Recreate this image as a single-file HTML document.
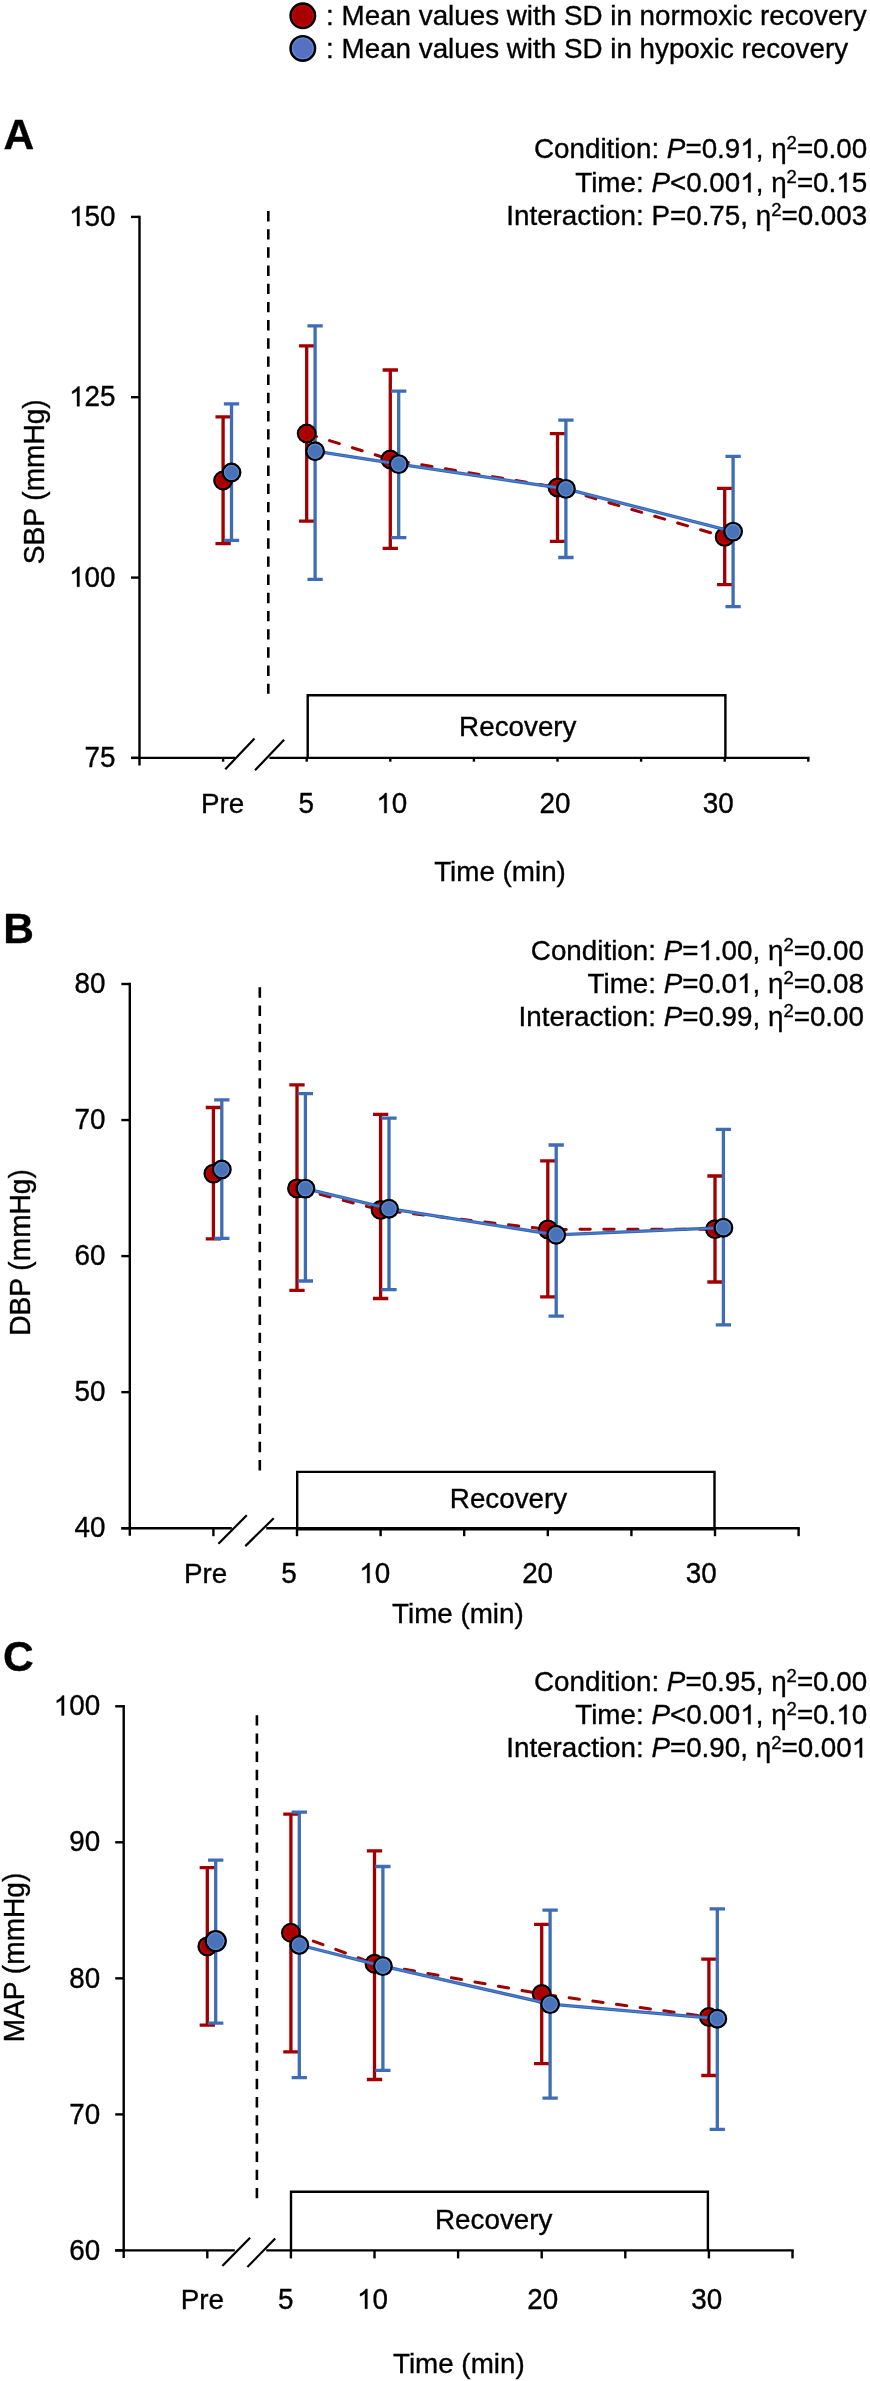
<!DOCTYPE html>
<html><head><meta charset="utf-8"><style>
html,body{margin:0;padding:0;background:#fff;}
body{width:870px;height:2381px;overflow:hidden;}
svg{display:block;font-family:"Liberation Sans", sans-serif;will-change:transform;} text,.g1{stroke:#000;stroke-width:0.35px;} .g1{stroke-width:25px;}
</style></head><body>
<svg width="870" height="2381" viewBox="0 0 870 2381" fill="#000">
<line x1="139.5" y1="215.7" x2="139.5" y2="765.4" stroke="#000" stroke-width="2.4" />
<line x1="131" y1="216.9" x2="139.5" y2="216.9" stroke="#000" stroke-width="2.4" />
<g transform="translate(115.5 226.05) scale(1 1.04)"><text id="t0" text-anchor="end" font-size="27.8" font-weight="normal" > 50</text>
<path class="g1" transform="translate(-46.39 0) scale(0.01357 -0.01357)" d="M763 0L583 0L583 1102Q518 1043 412 983Q306 924 223 894L223 1061Q372 1128 484 1224Q596 1321 643 1409L763 1409Z"/>
</g>
<line x1="131" y1="397.2" x2="139.5" y2="397.2" stroke="#000" stroke-width="2.4" />
<g transform="translate(115.5 406.35) scale(1 1.04)"><text id="t1" text-anchor="end" font-size="27.8" font-weight="normal" > 25</text>
<path class="g1" transform="translate(-46.39 0) scale(0.01357 -0.01357)" d="M763 0L583 0L583 1102Q518 1043 412 983Q306 924 223 894L223 1061Q372 1128 484 1224Q596 1321 643 1409L763 1409Z"/>
</g>
<line x1="131" y1="577.6" x2="139.5" y2="577.6" stroke="#000" stroke-width="2.4" />
<g transform="translate(115.5 586.75) scale(1 1.04)"><text id="t2" text-anchor="end" font-size="27.8" font-weight="normal" > 00</text>
<path class="g1" transform="translate(-46.39 0) scale(0.01357 -0.01357)" d="M763 0L583 0L583 1102Q518 1043 412 983Q306 924 223 894L223 1061Q372 1128 484 1224Q596 1321 643 1409L763 1409Z"/>
</g>
<line x1="131" y1="757.9" x2="139.5" y2="757.9" stroke="#000" stroke-width="2.4" />
<g transform="translate(115.5 767.05) scale(1 1.04)"><text id="t3" text-anchor="end" font-size="27.8" font-weight="normal" >75</text>
</g>
<line x1="131" y1="757.9" x2="235" y2="757.9" stroke="#000" stroke-width="2.4" />
<line x1="269.4" y1="757.9" x2="809.5" y2="757.9" stroke="#000" stroke-width="2.4" />
<line x1="223.1" y1="757.9" x2="223.1" y2="761.7" stroke="#000" stroke-width="2.4" />
<line x1="306.7" y1="757.9" x2="306.7" y2="761.7" stroke="#000" stroke-width="2.4" />
<line x1="390.3" y1="757.9" x2="390.3" y2="761.7" stroke="#000" stroke-width="2.4" />
<line x1="473.9" y1="757.9" x2="473.9" y2="761.7" stroke="#000" stroke-width="2.4" />
<line x1="557.5" y1="757.9" x2="557.5" y2="761.7" stroke="#000" stroke-width="2.4" />
<line x1="641.1" y1="757.9" x2="641.1" y2="761.7" stroke="#000" stroke-width="2.4" />
<line x1="724.7" y1="757.9" x2="724.7" y2="761.7" stroke="#000" stroke-width="2.4" />
<line x1="808.3" y1="757.9" x2="808.3" y2="761.7" stroke="#000" stroke-width="2.4" />
<line x1="225.3" y1="769.2" x2="254.5" y2="738.6" stroke="#000" stroke-width="2.2" />
<line x1="255" y1="770.3" x2="284.1" y2="739.8" stroke="#000" stroke-width="2.2" />
<line x1="268.3" y1="211" x2="268.3" y2="693.7" stroke="#000" stroke-width="2.6" stroke-dasharray="10.4 7.78"/>
<path d="M307.7 757.9V695.3H725.4V757.9" stroke="#000" stroke-width="2.4" fill="none"/>
<g transform="translate(517.8 736.1) scale(1 1.02)"><text id="t4" text-anchor="middle" font-size="27.8" font-weight="normal" >Recovery</text>
</g>
<g transform="translate(222.5 813) scale(1 1.02)"><text id="t5" text-anchor="middle" font-size="27.8" font-weight="normal" >Pre</text>
</g>
<g transform="translate(306.2 813) scale(1 1.04)"><text id="t6" text-anchor="middle" font-size="27.8" font-weight="normal" >5</text>
</g>
<g transform="translate(391.8 813) scale(1 1.04)"><text id="t7" text-anchor="middle" font-size="27.8" font-weight="normal" > 0</text>
<path class="g1" transform="translate(-15.46 0) scale(0.01357 -0.01357)" d="M763 0L583 0L583 1102Q518 1043 412 983Q306 924 223 894L223 1061Q372 1128 484 1224Q596 1321 643 1409L763 1409Z"/>
</g>
<g transform="translate(555 813) scale(1 1.04)"><text id="t8" text-anchor="middle" font-size="27.8" font-weight="normal" >20</text>
</g>
<g transform="translate(718.3 813) scale(1 1.04)"><text id="t9" text-anchor="middle" font-size="27.8" font-weight="normal" >30</text>
</g>
<g transform="translate(500 881) scale(1 1.02)"><text id="t10" text-anchor="middle" font-size="27.8" font-weight="normal" >Time (min)</text>
</g>
<text transform="translate(44.2 481.75) rotate(-90) scale(1 1.02)" text-anchor="middle" font-size="28.1">SBP (mmHg)</text>
<g transform="translate(3.6 149.1) scale(1 1.02)"><text id="t11" text-anchor="start" font-size="42.5" font-weight="bold" >A</text>
</g>
<g transform="translate(867.2 158) scale(1 1.02)"><text id="t12" text-anchor="end" font-size="27.8" font-weight="normal" >Condition: <tspan font-style="italic">P</tspan>=0.9 , η<tspan font-size="18.5" dy="-8.7">2</tspan><tspan dy="8.7">=0.00</tspan></text>
<path class="g1" transform="translate(-126.96 0) scale(0.01357 -0.01357)" d="M763 0L583 0L583 1102Q518 1043 412 983Q306 924 223 894L223 1061Q372 1128 484 1224Q596 1321 643 1409L763 1409Z"/>
</g>
<g transform="translate(867.2 192.3) scale(1 1.02)"><text id="t13" text-anchor="end" font-size="27.8" font-weight="normal" >Time: <tspan font-style="italic">P</tspan>&lt;0.00 , η<tspan font-size="18.5" dy="-8.7">2</tspan><tspan dy="8.7">=0. 5</tspan></text>
<path class="g1" transform="translate(-126.96 0) scale(0.01357 -0.01357)" d="M763 0L583 0L583 1102Q518 1043 412 983Q306 924 223 894L223 1061Q372 1128 484 1224Q596 1321 643 1409L763 1409Z"/>
<path class="g1" transform="translate(-30.92 0) scale(0.01357 -0.01357)" d="M763 0L583 0L583 1102Q518 1043 412 983Q306 924 223 894L223 1061Q372 1128 484 1224Q596 1321 643 1409L763 1409Z"/>
</g>
<g transform="translate(867.2 224.7) scale(1 1.02)"><text id="t14" text-anchor="end" font-size="27.8" font-weight="normal" >Interaction: P=0.75, η<tspan font-size="18.5" dy="-8.7">2</tspan><tspan dy="8.7">=0.003</tspan></text>
</g>
<path d="M223.1 416.8V543.7M215.45 416.8H230.75M215.45 543.7H230.75" stroke="#A00000" stroke-width="3.3" fill="none"/>
<path d="M306.7 345.9V521.2M299.05 345.9H314.35M299.05 521.2H314.35" stroke="#A00000" stroke-width="3.3" fill="none"/>
<path d="M390.3 370V548.4M382.65 370H397.95M382.65 548.4H397.95" stroke="#A00000" stroke-width="3.3" fill="none"/>
<path d="M557.5 433.6V541.4M549.85 433.6H565.15M549.85 541.4H565.15" stroke="#A00000" stroke-width="3.3" fill="none"/>
<path d="M724.7 488.4V584.7M717.05 488.4H732.35M717.05 584.7H732.35" stroke="#A00000" stroke-width="3.3" fill="none"/>
<path d="M231.5 403.9V540.4M223.85 403.9H239.15M223.85 540.4H239.15" stroke="#3F6DB5" stroke-width="3.3" fill="none"/>
<path d="M315.1 325.9V579.4M307.45 325.9H322.75M307.45 579.4H322.75" stroke="#3F6DB5" stroke-width="3.3" fill="none"/>
<path d="M398.7 391.1V537.6M391.05 391.1H406.35M391.05 537.6H406.35" stroke="#3F6DB5" stroke-width="3.3" fill="none"/>
<path d="M565.9 420.2V557.5M558.25 420.2H573.55M558.25 557.5H573.55" stroke="#3F6DB5" stroke-width="3.3" fill="none"/>
<path d="M733.1 456.3V606.7M725.45 456.3H740.75M725.45 606.7H740.75" stroke="#3F6DB5" stroke-width="3.3" fill="none"/>
<polyline points="306.7,433.5 390.3,459.5 557.5,487.5 724.7,536.9" fill="none" stroke="#A00000" stroke-width="3" stroke-dasharray="10.3 13.6" stroke-linecap="round"/>
<circle cx="223.1" cy="480.5" r="8.75" fill="#A80000" stroke="#000" stroke-width="2.4"/>
<circle cx="223.1" cy="480.5" r="7" fill="none" stroke="#CC0000" stroke-width="1.1"/>
<circle cx="306.7" cy="433.5" r="8.75" fill="#A80000" stroke="#000" stroke-width="2.4"/>
<circle cx="306.7" cy="433.5" r="7" fill="none" stroke="#CC0000" stroke-width="1.1"/>
<circle cx="390.3" cy="459.5" r="8.75" fill="#A80000" stroke="#000" stroke-width="2.4"/>
<circle cx="390.3" cy="459.5" r="7" fill="none" stroke="#CC0000" stroke-width="1.1"/>
<circle cx="557.5" cy="487.5" r="8.75" fill="#A80000" stroke="#000" stroke-width="2.4"/>
<circle cx="557.5" cy="487.5" r="7" fill="none" stroke="#CC0000" stroke-width="1.1"/>
<circle cx="724.7" cy="536.9" r="8.75" fill="#A80000" stroke="#000" stroke-width="2.4"/>
<circle cx="724.7" cy="536.9" r="7" fill="none" stroke="#CC0000" stroke-width="1.1"/>
<polyline points="315.1,451.2 398.7,464.1 565.9,488.9 733.1,531.6" fill="none" stroke="#3863B0" stroke-width="3.3" stroke-linejoin="round"/>
<polyline points="315.1,451.2 398.7,464.1 565.9,488.9 733.1,531.6" fill="none" stroke="#4A86D6" stroke-width="1.1" stroke-linejoin="round"/>
<circle cx="231.5" cy="472.5" r="8.75" fill="#4A72B6" stroke="#000" stroke-width="2.4"/>
<circle cx="231.5" cy="472.5" r="7" fill="none" stroke="#5E8CDA" stroke-width="1.1"/>
<circle cx="315.1" cy="451.2" r="8.75" fill="#4A72B6" stroke="#000" stroke-width="2.4"/>
<circle cx="315.1" cy="451.2" r="7" fill="none" stroke="#5E8CDA" stroke-width="1.1"/>
<circle cx="398.7" cy="464.1" r="8.75" fill="#4A72B6" stroke="#000" stroke-width="2.4"/>
<circle cx="398.7" cy="464.1" r="7" fill="none" stroke="#5E8CDA" stroke-width="1.1"/>
<circle cx="565.9" cy="488.9" r="8.75" fill="#4A72B6" stroke="#000" stroke-width="2.4"/>
<circle cx="565.9" cy="488.9" r="7" fill="none" stroke="#5E8CDA" stroke-width="1.1"/>
<circle cx="733.1" cy="531.6" r="8.75" fill="#4A72B6" stroke="#000" stroke-width="2.4"/>
<circle cx="733.1" cy="531.6" r="7" fill="none" stroke="#5E8CDA" stroke-width="1.1"/>
<line x1="129.8" y1="982.8" x2="129.8" y2="1535.7" stroke="#000" stroke-width="2.4" />
<line x1="121.3" y1="984" x2="129.8" y2="984" stroke="#000" stroke-width="2.4" />
<g transform="translate(105.5 993.15) scale(1 1.04)"><text id="t15" text-anchor="end" font-size="27.8" font-weight="normal" >80</text>
</g>
<line x1="121.3" y1="1120.05" x2="129.8" y2="1120.05" stroke="#000" stroke-width="2.4" />
<g transform="translate(105.5 1129.2) scale(1 1.04)"><text id="t16" text-anchor="end" font-size="27.8" font-weight="normal" >70</text>
</g>
<line x1="121.3" y1="1256.1" x2="129.8" y2="1256.1" stroke="#000" stroke-width="2.4" />
<g transform="translate(105.5 1265.25) scale(1 1.04)"><text id="t17" text-anchor="end" font-size="27.8" font-weight="normal" >60</text>
</g>
<line x1="121.3" y1="1392.15" x2="129.8" y2="1392.15" stroke="#000" stroke-width="2.4" />
<g transform="translate(105.5 1401.3) scale(1 1.04)"><text id="t18" text-anchor="end" font-size="27.8" font-weight="normal" >50</text>
</g>
<line x1="121.3" y1="1528.2" x2="129.8" y2="1528.2" stroke="#000" stroke-width="2.4" />
<g transform="translate(105.5 1537.35) scale(1 1.04)"><text id="t19" text-anchor="end" font-size="27.8" font-weight="normal" >40</text>
</g>
<line x1="121.3" y1="1528.2" x2="231.8" y2="1528.2" stroke="#000" stroke-width="2.4" />
<line x1="266.2" y1="1528.2" x2="799.8" y2="1528.2" stroke="#000" stroke-width="2.4" />
<line x1="213.4" y1="1528.2" x2="213.4" y2="1536.2" stroke="#000" stroke-width="2.4" />
<line x1="297" y1="1528.2" x2="297" y2="1536.2" stroke="#000" stroke-width="2.4" />
<line x1="380.6" y1="1528.2" x2="380.6" y2="1536.2" stroke="#000" stroke-width="2.4" />
<line x1="464.2" y1="1528.2" x2="464.2" y2="1536.2" stroke="#000" stroke-width="2.4" />
<line x1="547.8" y1="1528.2" x2="547.8" y2="1536.2" stroke="#000" stroke-width="2.4" />
<line x1="631.4" y1="1528.2" x2="631.4" y2="1536.2" stroke="#000" stroke-width="2.4" />
<line x1="715" y1="1528.2" x2="715" y2="1536.2" stroke="#000" stroke-width="2.4" />
<line x1="798.6" y1="1528.2" x2="798.6" y2="1536.2" stroke="#000" stroke-width="2.4" />
<line x1="218.4" y1="1543.7" x2="246.8" y2="1515.3" stroke="#000" stroke-width="2.2" />
<line x1="245.3" y1="1546.1" x2="273.7" y2="1518.3" stroke="#000" stroke-width="2.2" />
<line x1="259.8" y1="987.3" x2="259.8" y2="1470.4" stroke="#000" stroke-width="2.6" stroke-dasharray="10.4 7.78"/>
<path d="M297.2 1528.2V1471.9H714.5V1528.2" stroke="#000" stroke-width="2.4" fill="none"/>
<line x1="297.2" y1="1529.4" x2="714.5" y2="1529.4" stroke="#000" stroke-width="2.4" />
<g transform="translate(508.5 1507.7) scale(1 1.02)"><text id="t20" text-anchor="middle" font-size="27.8" font-weight="normal" >Recovery</text>
</g>
<g transform="translate(205.5 1583) scale(1 1.02)"><text id="t21" text-anchor="middle" font-size="27.8" font-weight="normal" >Pre</text>
</g>
<g transform="translate(289 1583) scale(1 1.04)"><text id="t22" text-anchor="middle" font-size="27.8" font-weight="normal" >5</text>
</g>
<g transform="translate(374.7 1583) scale(1 1.04)"><text id="t23" text-anchor="middle" font-size="27.8" font-weight="normal" > 0</text>
<path class="g1" transform="translate(-15.46 0) scale(0.01357 -0.01357)" d="M763 0L583 0L583 1102Q518 1043 412 983Q306 924 223 894L223 1061Q372 1128 484 1224Q596 1321 643 1409L763 1409Z"/>
</g>
<g transform="translate(537.6 1583) scale(1 1.04)"><text id="t24" text-anchor="middle" font-size="27.8" font-weight="normal" >20</text>
</g>
<g transform="translate(701.2 1583) scale(1 1.04)"><text id="t25" text-anchor="middle" font-size="27.8" font-weight="normal" >30</text>
</g>
<g transform="translate(457.9 1623.3) scale(1 1.02)"><text id="t26" text-anchor="middle" font-size="27.8" font-weight="normal" >Time (min)</text>
</g>
<text transform="translate(30 1252.45) rotate(-90) scale(1 1.02)" text-anchor="middle" font-size="28.1">DBP (mmHg)</text>
<g transform="translate(3.3 942.6) scale(1 1.02)"><text id="t27" text-anchor="start" font-size="42.5" font-weight="bold" >B</text>
</g>
<g transform="translate(864 960.1) scale(1 1.02)"><text id="t28" text-anchor="end" font-size="27.8" font-weight="normal" >Condition: <tspan font-style="italic">P</tspan>= .00, η<tspan font-size="18.5" dy="-8.7">2</tspan><tspan dy="8.7">=0.00</tspan></text>
<path class="g1" transform="translate(-165.59 0) scale(0.01357 -0.01357)" d="M763 0L583 0L583 1102Q518 1043 412 983Q306 924 223 894L223 1061Q372 1128 484 1224Q596 1321 643 1409L763 1409Z"/>
</g>
<g transform="translate(864 993) scale(1 1.02)"><text id="t29" text-anchor="end" font-size="27.8" font-weight="normal" >Time: <tspan font-style="italic">P</tspan>=0.0 , η<tspan font-size="18.5" dy="-8.7">2</tspan><tspan dy="8.7">=0.08</tspan></text>
<path class="g1" transform="translate(-126.96 0) scale(0.01357 -0.01357)" d="M763 0L583 0L583 1102Q518 1043 412 983Q306 924 223 894L223 1061Q372 1128 484 1224Q596 1321 643 1409L763 1409Z"/>
</g>
<g transform="translate(864 1026.2) scale(1 1.02)"><text id="t30" text-anchor="end" font-size="27.8" font-weight="normal" >Interaction: <tspan font-style="italic">P</tspan>=0.99, η<tspan font-size="18.5" dy="-8.7">2</tspan><tspan dy="8.7">=0.00</tspan></text>
</g>
<path d="M213.4 1107.5V1238.9M205.75 1107.5H221.05M205.75 1238.9H221.05" stroke="#A00000" stroke-width="3.3" fill="none"/>
<path d="M297 1084.8V1290.3M289.35 1084.8H304.65M289.35 1290.3H304.65" stroke="#A00000" stroke-width="3.3" fill="none"/>
<path d="M380.6 1114.3V1298.5M372.95 1114.3H388.25M372.95 1298.5H388.25" stroke="#A00000" stroke-width="3.3" fill="none"/>
<path d="M547.8 1160.9V1296.8M540.15 1160.9H555.45M540.15 1296.8H555.45" stroke="#A00000" stroke-width="3.3" fill="none"/>
<path d="M715 1176V1282M707.35 1176H722.65M707.35 1282H722.65" stroke="#A00000" stroke-width="3.3" fill="none"/>
<path d="M221.8 1099.9V1238.4M214.15 1099.9H229.45M214.15 1238.4H229.45" stroke="#3F6DB5" stroke-width="3.3" fill="none"/>
<path d="M305.4 1093.6V1281M297.75 1093.6H313.05M297.75 1281H313.05" stroke="#3F6DB5" stroke-width="3.3" fill="none"/>
<path d="M389 1118.1V1289.6M381.35 1118.1H396.65M381.35 1289.6H396.65" stroke="#3F6DB5" stroke-width="3.3" fill="none"/>
<path d="M556.2 1145V1316.1M548.55 1145H563.85M548.55 1316.1H563.85" stroke="#3F6DB5" stroke-width="3.3" fill="none"/>
<path d="M723.4 1129.3V1324.8M715.75 1129.3H731.05M715.75 1324.8H731.05" stroke="#3F6DB5" stroke-width="3.3" fill="none"/>
<polyline points="297,1188.4 380.6,1210 547.8,1229.4 715,1229.2" fill="none" stroke="#A00000" stroke-width="3" stroke-dasharray="10.3 13.6" stroke-linecap="round"/>
<circle cx="213.4" cy="1173.6" r="8.75" fill="#A80000" stroke="#000" stroke-width="2.4"/>
<circle cx="213.4" cy="1173.6" r="7" fill="none" stroke="#CC0000" stroke-width="1.1"/>
<circle cx="297" cy="1188.4" r="8.75" fill="#A80000" stroke="#000" stroke-width="2.4"/>
<circle cx="297" cy="1188.4" r="7" fill="none" stroke="#CC0000" stroke-width="1.1"/>
<circle cx="380.6" cy="1210" r="8.75" fill="#A80000" stroke="#000" stroke-width="2.4"/>
<circle cx="380.6" cy="1210" r="7" fill="none" stroke="#CC0000" stroke-width="1.1"/>
<circle cx="547.8" cy="1229.4" r="8.75" fill="#A80000" stroke="#000" stroke-width="2.4"/>
<circle cx="547.8" cy="1229.4" r="7" fill="none" stroke="#CC0000" stroke-width="1.1"/>
<circle cx="715" cy="1229.2" r="8.75" fill="#A80000" stroke="#000" stroke-width="2.4"/>
<circle cx="715" cy="1229.2" r="7" fill="none" stroke="#CC0000" stroke-width="1.1"/>
<polyline points="305.4,1188.6 389,1208.7 556.2,1234.8 723.4,1227.7" fill="none" stroke="#3863B0" stroke-width="3.3" stroke-linejoin="round"/>
<polyline points="305.4,1188.6 389,1208.7 556.2,1234.8 723.4,1227.7" fill="none" stroke="#4A86D6" stroke-width="1.1" stroke-linejoin="round"/>
<circle cx="221.8" cy="1169.5" r="8.75" fill="#4A72B6" stroke="#000" stroke-width="2.4"/>
<circle cx="221.8" cy="1169.5" r="7" fill="none" stroke="#5E8CDA" stroke-width="1.1"/>
<circle cx="305.4" cy="1188.6" r="8.75" fill="#4A72B6" stroke="#000" stroke-width="2.4"/>
<circle cx="305.4" cy="1188.6" r="7" fill="none" stroke="#5E8CDA" stroke-width="1.1"/>
<circle cx="389" cy="1208.7" r="8.75" fill="#4A72B6" stroke="#000" stroke-width="2.4"/>
<circle cx="389" cy="1208.7" r="7" fill="none" stroke="#5E8CDA" stroke-width="1.1"/>
<circle cx="556.2" cy="1234.8" r="8.75" fill="#4A72B6" stroke="#000" stroke-width="2.4"/>
<circle cx="556.2" cy="1234.8" r="7" fill="none" stroke="#5E8CDA" stroke-width="1.1"/>
<circle cx="723.4" cy="1227.7" r="8.75" fill="#4A72B6" stroke="#000" stroke-width="2.4"/>
<circle cx="723.4" cy="1227.7" r="7" fill="none" stroke="#5E8CDA" stroke-width="1.1"/>
<line x1="123.7" y1="1705.1" x2="123.7" y2="2257.9" stroke="#000" stroke-width="2.4" />
<line x1="115.2" y1="1706.3" x2="123.7" y2="1706.3" stroke="#000" stroke-width="2.4" />
<g transform="translate(100.1 1715.45) scale(1 1.04)"><text id="t31" text-anchor="end" font-size="27.8" font-weight="normal" > 00</text>
<path class="g1" transform="translate(-46.39 0) scale(0.01357 -0.01357)" d="M763 0L583 0L583 1102Q518 1043 412 983Q306 924 223 894L223 1061Q372 1128 484 1224Q596 1321 643 1409L763 1409Z"/>
</g>
<line x1="115.2" y1="1842.3" x2="123.7" y2="1842.3" stroke="#000" stroke-width="2.4" />
<g transform="translate(100.1 1851.45) scale(1 1.04)"><text id="t32" text-anchor="end" font-size="27.8" font-weight="normal" >90</text>
</g>
<line x1="115.2" y1="1978.35" x2="123.7" y2="1978.35" stroke="#000" stroke-width="2.4" />
<g transform="translate(100.1 1987.5) scale(1 1.04)"><text id="t33" text-anchor="end" font-size="27.8" font-weight="normal" >80</text>
</g>
<line x1="115.2" y1="2114.4" x2="123.7" y2="2114.4" stroke="#000" stroke-width="2.4" />
<g transform="translate(100.1 2123.55) scale(1 1.04)"><text id="t34" text-anchor="end" font-size="27.8" font-weight="normal" >70</text>
</g>
<line x1="115.2" y1="2250.4" x2="123.7" y2="2250.4" stroke="#000" stroke-width="2.4" />
<g transform="translate(100.1 2259.55) scale(1 1.04)"><text id="t35" text-anchor="end" font-size="27.8" font-weight="normal" >60</text>
</g>
<line x1="115.2" y1="2250.4" x2="234.8" y2="2250.4" stroke="#000" stroke-width="2.4" />
<line x1="266.2" y1="2250.4" x2="793.7" y2="2250.4" stroke="#000" stroke-width="2.4" />
<line x1="207.3" y1="2250.4" x2="207.3" y2="2258.4" stroke="#000" stroke-width="2.4" />
<line x1="290.9" y1="2250.4" x2="290.9" y2="2258.4" stroke="#000" stroke-width="2.4" />
<line x1="374.5" y1="2250.4" x2="374.5" y2="2258.4" stroke="#000" stroke-width="2.4" />
<line x1="458.1" y1="2250.4" x2="458.1" y2="2258.4" stroke="#000" stroke-width="2.4" />
<line x1="541.7" y1="2250.4" x2="541.7" y2="2258.4" stroke="#000" stroke-width="2.4" />
<line x1="625.3" y1="2250.4" x2="625.3" y2="2258.4" stroke="#000" stroke-width="2.4" />
<line x1="708.9" y1="2250.4" x2="708.9" y2="2258.4" stroke="#000" stroke-width="2.4" />
<line x1="792.5" y1="2250.4" x2="792.5" y2="2258.4" stroke="#000" stroke-width="2.4" />
<line x1="222.3" y1="2266.1" x2="250.1" y2="2237.7" stroke="#000" stroke-width="2.2" />
<line x1="247.4" y1="2267" x2="275.2" y2="2238.6" stroke="#000" stroke-width="2.2" />
<line x1="256.9" y1="1715.2" x2="256.9" y2="2198.3" stroke="#000" stroke-width="2.6" stroke-dasharray="10.4 7.78"/>
<path d="M291 2250.4V2191.7H707.9V2250.4" stroke="#000" stroke-width="2.4" fill="none"/>
<g transform="translate(493.7 2229) scale(1 1.02)"><text id="t36" text-anchor="middle" font-size="27.8" font-weight="normal" >Recovery</text>
</g>
<g transform="translate(202.4 2308.8) scale(1 1.02)"><text id="t37" text-anchor="middle" font-size="27.8" font-weight="normal" >Pre</text>
</g>
<g transform="translate(285.8 2308.8) scale(1 1.04)"><text id="t38" text-anchor="middle" font-size="27.8" font-weight="normal" >5</text>
</g>
<g transform="translate(372.5 2308.8) scale(1 1.04)"><text id="t39" text-anchor="middle" font-size="27.8" font-weight="normal" > 0</text>
<path class="g1" transform="translate(-15.46 0) scale(0.01357 -0.01357)" d="M763 0L583 0L583 1102Q518 1043 412 983Q306 924 223 894L223 1061Q372 1128 484 1224Q596 1321 643 1409L763 1409Z"/>
</g>
<g transform="translate(542.8 2308.8) scale(1 1.04)"><text id="t40" text-anchor="middle" font-size="27.8" font-weight="normal" >20</text>
</g>
<g transform="translate(706.7 2308.8) scale(1 1.04)"><text id="t41" text-anchor="middle" font-size="27.8" font-weight="normal" >30</text>
</g>
<g transform="translate(458.8 2372.9) scale(1 1.02)"><text id="t42" text-anchor="middle" font-size="27.8" font-weight="normal" >Time (min)</text>
</g>
<text transform="translate(23.8 1957.5) rotate(-90) scale(1 1.02)" text-anchor="middle" font-size="28.1">MAP (mmHg)</text>
<g transform="translate(3.1 1671) scale(1 1.02)"><text id="t43" text-anchor="start" font-size="42.5" font-weight="bold" >C</text>
</g>
<g transform="translate(867.2 1690.7) scale(1 1.02)"><text id="t44" text-anchor="end" font-size="27.8" font-weight="normal" >Condition: <tspan font-style="italic">P</tspan>=0.95, η<tspan font-size="18.5" dy="-8.7">2</tspan><tspan dy="8.7">=0.00</tspan></text>
</g>
<g transform="translate(867.2 1724.2) scale(1 1.02)"><text id="t45" text-anchor="end" font-size="27.8" font-weight="normal" >Time: <tspan font-style="italic">P</tspan>&lt;0.00 , η<tspan font-size="18.5" dy="-8.7">2</tspan><tspan dy="8.7">=0. 0</tspan></text>
<path class="g1" transform="translate(-126.96 0) scale(0.01357 -0.01357)" d="M763 0L583 0L583 1102Q518 1043 412 983Q306 924 223 894L223 1061Q372 1128 484 1224Q596 1321 643 1409L763 1409Z"/>
<path class="g1" transform="translate(-30.92 0) scale(0.01357 -0.01357)" d="M763 0L583 0L583 1102Q518 1043 412 983Q306 924 223 894L223 1061Q372 1128 484 1224Q596 1321 643 1409L763 1409Z"/>
</g>
<g transform="translate(867.2 1757.4) scale(1 1.02)"><text id="t46" text-anchor="end" font-size="27.8" font-weight="normal" >Interaction: <tspan font-style="italic">P</tspan>=0.90, η<tspan font-size="18.5" dy="-8.7">2</tspan><tspan dy="8.7">=0.00 </tspan></text>
<path class="g1" transform="translate(-15.47 0) scale(0.01357 -0.01357)" d="M763 0L583 0L583 1102Q518 1043 412 983Q306 924 223 894L223 1061Q372 1128 484 1224Q596 1321 643 1409L763 1409Z"/>
</g>
<path d="M207.3 1867.6V2025.2M199.65 1867.6H214.95M199.65 2025.2H214.95" stroke="#A00000" stroke-width="3.3" fill="none"/>
<path d="M290.9 1814.1V2051.8M283.25 1814.1H298.55M283.25 2051.8H298.55" stroke="#A00000" stroke-width="3.3" fill="none"/>
<path d="M374.5 1850.8V2079.5M366.85 1850.8H382.15M366.85 2079.5H382.15" stroke="#A00000" stroke-width="3.3" fill="none"/>
<path d="M541.7 1924.3V2063.7M534.05 1924.3H549.35M534.05 2063.7H549.35" stroke="#A00000" stroke-width="3.3" fill="none"/>
<path d="M708.9 1959.2V2075.5M701.25 1959.2H716.55M701.25 2075.5H716.55" stroke="#A00000" stroke-width="3.3" fill="none"/>
<path d="M215.7 1860.1V2023.1M208.05 1860.1H223.35M208.05 2023.1H223.35" stroke="#3F6DB5" stroke-width="3.3" fill="none"/>
<path d="M299.3 1812.1V2077.6M291.65 1812.1H306.95M291.65 2077.6H306.95" stroke="#3F6DB5" stroke-width="3.3" fill="none"/>
<path d="M382.9 1866.5V2070.4M375.25 1866.5H390.55M375.25 2070.4H390.55" stroke="#3F6DB5" stroke-width="3.3" fill="none"/>
<path d="M550.1 1910.1V2098.1M542.45 1910.1H557.75M542.45 2098.1H557.75" stroke="#3F6DB5" stroke-width="3.3" fill="none"/>
<path d="M717.3 1908.9V2129.4M709.65 1908.9H724.95M709.65 2129.4H724.95" stroke="#3F6DB5" stroke-width="3.3" fill="none"/>
<polyline points="290.9,1932.8 374.5,1963.8 541.7,1994 708.9,2017" fill="none" stroke="#A00000" stroke-width="3" stroke-dasharray="10.3 13.6" stroke-linecap="round"/>
<circle cx="207.3" cy="1946.4" r="8.75" fill="#A80000" stroke="#000" stroke-width="2.4"/>
<circle cx="207.3" cy="1946.4" r="7" fill="none" stroke="#CC0000" stroke-width="1.1"/>
<circle cx="290.9" cy="1932.8" r="8.75" fill="#A80000" stroke="#000" stroke-width="2.4"/>
<circle cx="290.9" cy="1932.8" r="7" fill="none" stroke="#CC0000" stroke-width="1.1"/>
<circle cx="374.5" cy="1963.8" r="8.75" fill="#A80000" stroke="#000" stroke-width="2.4"/>
<circle cx="374.5" cy="1963.8" r="7" fill="none" stroke="#CC0000" stroke-width="1.1"/>
<circle cx="541.7" cy="1994" r="8.75" fill="#A80000" stroke="#000" stroke-width="2.4"/>
<circle cx="541.7" cy="1994" r="7" fill="none" stroke="#CC0000" stroke-width="1.1"/>
<circle cx="708.9" cy="2017" r="8.75" fill="#A80000" stroke="#000" stroke-width="2.4"/>
<circle cx="708.9" cy="2017" r="7" fill="none" stroke="#CC0000" stroke-width="1.1"/>
<polyline points="299.3,1945 382.9,1966.1 550.1,2004.1 717.3,2018.7" fill="none" stroke="#3863B0" stroke-width="3.3" stroke-linejoin="round"/>
<polyline points="299.3,1945 382.9,1966.1 550.1,2004.1 717.3,2018.7" fill="none" stroke="#4A86D6" stroke-width="1.1" stroke-linejoin="round"/>
<circle cx="215.7" cy="1941.1" r="10.0" fill="#4A72B6" stroke="#000" stroke-width="2.4"/>
<circle cx="215.7" cy="1941.1" r="8.25" fill="none" stroke="#5E8CDA" stroke-width="1.1"/>
<circle cx="299.3" cy="1945" r="8.75" fill="#4A72B6" stroke="#000" stroke-width="2.4"/>
<circle cx="299.3" cy="1945" r="7" fill="none" stroke="#5E8CDA" stroke-width="1.1"/>
<circle cx="382.9" cy="1966.1" r="8.75" fill="#4A72B6" stroke="#000" stroke-width="2.4"/>
<circle cx="382.9" cy="1966.1" r="7" fill="none" stroke="#5E8CDA" stroke-width="1.1"/>
<circle cx="550.1" cy="2004.1" r="8.75" fill="#4A72B6" stroke="#000" stroke-width="2.4"/>
<circle cx="550.1" cy="2004.1" r="7" fill="none" stroke="#5E8CDA" stroke-width="1.1"/>
<circle cx="717.3" cy="2018.7" r="8.75" fill="#4A72B6" stroke="#000" stroke-width="2.4"/>
<circle cx="717.3" cy="2018.7" r="7" fill="none" stroke="#5E8CDA" stroke-width="1.1"/>
<circle cx="302.8" cy="15.8" r="12.2" fill="#A80000" stroke="#000" stroke-width="2.6"/>
<circle cx="302.8" cy="15.8" r="10.35" fill="none" stroke="#CC0000" stroke-width="1.1"/>
<circle cx="302.8" cy="48.4" r="12.2" fill="#5471C2" stroke="#000" stroke-width="2.6"/>
<circle cx="302.8" cy="48.4" r="10.35" fill="none" stroke="#6488E0" stroke-width="1.1"/>
<g transform="translate(326.1 25.3) scale(1 1.02)"><text id="t47" text-anchor="start" font-size="27.8" font-weight="normal" >: Mean values with SD in normoxic recovery</text>
</g>
<g transform="translate(326.1 58) scale(1 1.02)"><text id="t48" text-anchor="start" font-size="27.8" font-weight="normal" >: Mean values with SD in hypoxic recovery</text>
</g>
</svg>
</body></html>
